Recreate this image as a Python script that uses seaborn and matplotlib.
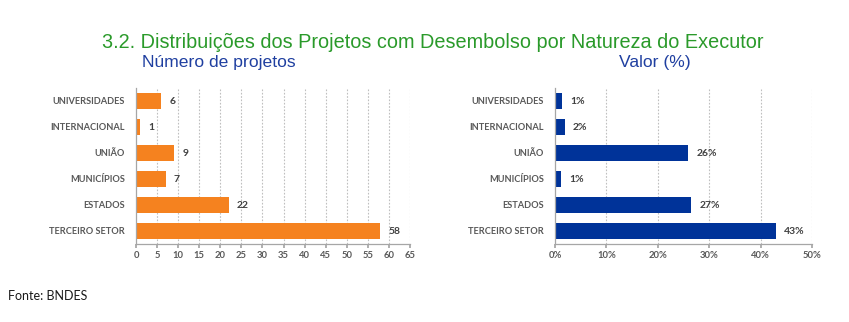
import matplotlib
matplotlib.use("Agg")
import matplotlib.pyplot as plt
import seaborn as sns
import pandas as pd

categories = ["UNIVERSIDADES", "INTERNACIONAL", "UNIÃO", "MUNICÍPIOS", "ESTADOS", "TERCEIRO SETOR"]
num_projetos = [6, 1, 9, 7, 22, 58]
valor_pct = [1.3, 1.9, 25.9, 1.2, 26.5, 43.0]
valor_labels = ["1%", "2%", "26%", "1%", "27%", "43%"]
left_ticks = list(range(0, 70, 5))
right_ticks = [0, 10, 20, 30, 40, 50]
right_ticklabels = ["0%", "10%", "20%", "30%", "40%", "50%"]

sns.set_theme(style="white")
plt.rcParams['font.family'] = ['Lato', 'DejaVu Sans']

df_left = pd.DataFrame({"cat": categories, "val": num_projetos})
df_right = pd.DataFrame({"cat": categories, "val": valor_pct})

W, H = 849, 322
fig = plt.figure(figsize=(W / 100, H / 100), dpi=100)
fig.patch.set_facecolor("white")

ax1 = fig.add_axes([136 / W, (H - 244) / H, (410 - 136) / W, (244 - 88) / H])
ax2 = fig.add_axes([555 / W, (H - 244) / H, (812 - 555) / W, (244 - 88) / H])

orange = "#F5821F"
blue = "#003399"
tick_color = "#595959"
grid_color = "#BFBFBF"

sns.barplot(data=df_left, x="val", y="cat", orient="h", color=orange, width=0.58,
            saturation=1, ax=ax1, edgecolor="none")
sns.barplot(data=df_right, x="val", y="cat", orient="h", color=blue, width=0.58,
            saturation=1, ax=ax2, edgecolor="none")


def style(ax, ticks, xmax):
    ax.set_xlim(0, xmax)
    ax.set_ylim(5.5, -0.5)
    ax.set_xticks(ticks)
    ax.set_xlabel("")
    ax.set_ylabel("")
    for t in ticks[1:]:
        ax.axvline(t, color=grid_color, lw=0.8, ls=(0, (1.5, 1.5)), zorder=0)
    for s in ["top", "right"]:
        ax.spines[s].set_visible(False)
    for s in ["left", "bottom"]:
        ax.spines[s].set_color("#A6A6A6")
        ax.spines[s].set_linewidth(0.9)
    ax.tick_params(axis="x", length=3, color="#A6A6A6", pad=2, labelsize=6.8,
                   labelcolor=tick_color, bottom=True)
    ax.tick_params(axis="y", length=0, pad=8, labelsize=6.7, labelcolor=tick_color)
    for lab in ax.get_xticklabels() + ax.get_yticklabels():
        lab.set_fontweight("bold")


style(ax1, left_ticks, 65)
style(ax2, right_ticks, 50)
ax2.set_xticklabels(right_ticklabels)
for lab in ax2.get_xticklabels():
    lab.set_fontweight("bold")

ax1.bar_label(ax1.containers[0], labels=[str(v) for v in num_projetos], padding=6,
              fontsize=7.5, fontweight="bold", color="#404040")
ax2.bar_label(ax2.containers[0], labels=valor_labels, padding=6,
              fontsize=7.5, fontweight="bold", color="#404040")

fig.text(433 / W, 1 - 42 / H, "3.2. Distribuições dos Projetos com Desembolso por Natureza do Executor",
         ha="center", va="center", fontsize=14.3, color="#2A9A2A",
         family=["Liberation Sans", "DejaVu Sans"])
fig.text(219 / W, 1 - 63 / H, "Número de projetos", ha="center", va="center", fontsize=12.6,
         color="#1F3FA0", family=["Liberation Sans", "DejaVu Sans"])
fig.text(655 / W, 1 - 63 / H, "Valor (%)", ha="center", va="center", fontsize=12.6,
         color="#1F3FA0", family=["Liberation Sans", "DejaVu Sans"])
fig.text(8 / W, 1 - 296 / H, "Fonte: BNDES", ha="left", va="center", fontsize=9, color="#1a1a1a")

fig.savefig("out.png", dpi=100, facecolor="white")
